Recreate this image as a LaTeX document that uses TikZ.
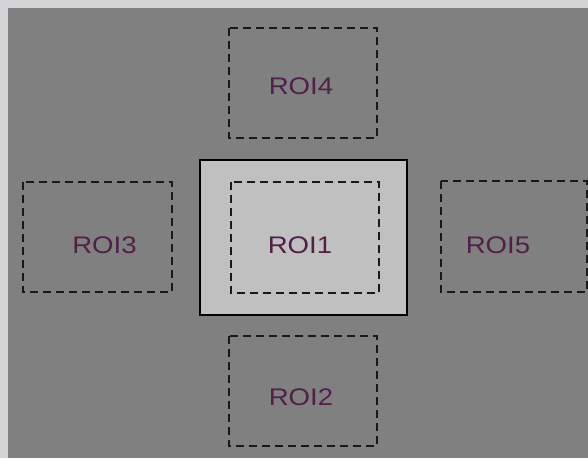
\documentclass[tikz,border=0pt]{standalone}
\usepackage{fontspec}
\setmainfont{Liberation Sans}
\newfontfamily\roifont[FakeStretch=1.15]{Liberation Sans}
\definecolor{edgegray}{RGB}{212,212,214}
\definecolor{bggray}{RGB}{128,128,128}
\definecolor{boxgray}{RGB}{192,192,192}
\definecolor{roitext}{RGB}{80,32,72}
\definecolor{dashcol}{RGB}{25,25,25}
\tikzset{
  roibox/.style={draw=dashcol, line width=2.6pt, dash pattern=on 8pt off 5pt},
  roilabel/.style={inner sep=0pt, text=roitext, font=\roifont\fontsize{24}{26}\selectfont},
  frame/.style={draw=black, line width=2.4pt, fill=boxgray}
}
\begin{document}
\begin{tikzpicture}[x=1pt,y=-1pt]
\useasboundingbox (0,0) rectangle (588,458);
\fill[edgegray] (0,0) rectangle (588,458);
\fill[bggray] (8,8) rectangle (588,458);
% central solid frame
\draw[frame] (200,160) rectangle (407,315);
% ROI boxes
\draw[roibox] (231,182) rectangle (379,293);
\draw[roibox] (229,28) rectangle (377,138);
\draw[roibox] (229,336) rectangle (377,446);
\draw[roibox] (23,182) rectangle (172,292);
\draw[roibox] (441,181) rectangle (587,292);
% labels
\node[roilabel] (r1) at (300,245.5) {ROI1};
\node[roilabel] (r4) at (301,86.5) {ROI4};
\node[roilabel] (r2) at (301,397) {ROI2};
\node[roilabel] (r3) at (104.5,245.5) {ROI3};
\node[roilabel] (r5) at (498,245.5) {ROI5};
\end{tikzpicture}
\end{document}
